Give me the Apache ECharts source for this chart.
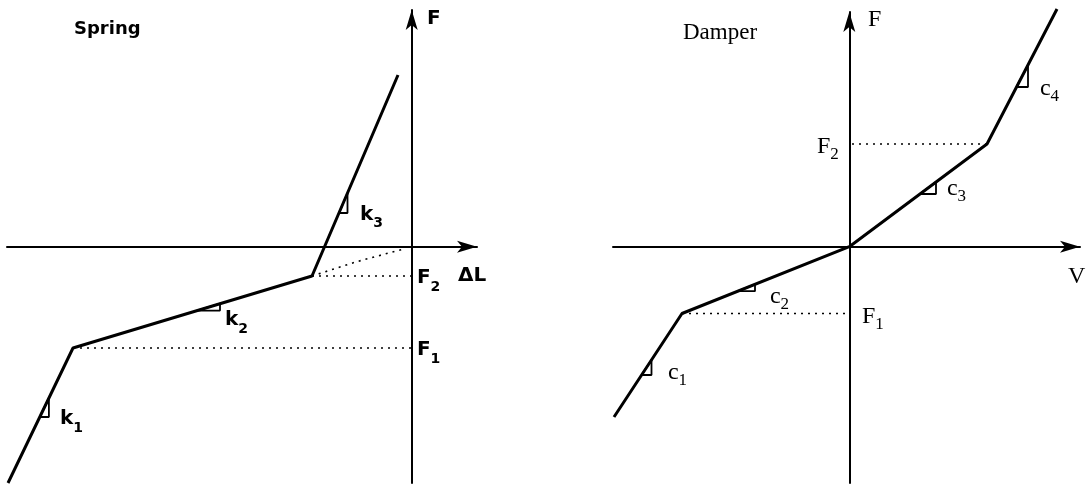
<!DOCTYPE html>
<html>
<head>
<meta charset="utf-8">
<script src="https://cdn.jsdelivr.net/npm/echarts@6/dist/echarts.min.js"></script>
<style>
  html, body { margin: 0; padding: 0; background: #fff; }
  #chart { width: 1089px; height: 488px; }
</style>
</head>
<body>
<div id="chart"></div>
<script>
// spring: deflection (ΔL) vs force, break points
var springCurve = [[-40.37, -23.63], [-33.87, -10.13], [-9.97, -2.93], [-1.37, 17.17]];
var springF1 = -10.13;
var springF2 = -2.93;
var springExtension = [[-9.97, -2.93], [-5.5, -1.5], [-0.7, -0.2]];
// slope triangles: [lowX, lowY, highX, highY] along the curve
var springSlopes = [[-37.19, -17.03, -36.28, -15.13], [-21.47, -6.39, -19.17, -5.70], [-7.27, 3.37, -6.42, 5.37]];
var springLabels = [
  ['F', '', 1.53, 22.8], ['ΔL', '', 4.63, -2.9], ['F', '2', 0.53, -3.13], ['F', '1', 0.53, -10.33],
  ['k', '3', -5.17, 3.22], ['k', '2', -18.67, -7.33], ['k', '1', -35.17, -17.23]
];

// damper: velocity (V) vs force
var damperCurve = [[-23.53, -17.03], [-16.73, -6.68], [0, 0], [13.77, 10.27], [20.77, 23.77]];
var damperF1 = -6.68;
var damperF2 = 10.27;
var damperSlopes = [[-20.77, -12.83, -19.78, -11.33], [-11.13, -4.45, -9.43, -3.77], [7.07, 5.27, 8.67, 6.47], [16.72, 15.97, 17.87, 18.17]];
var damperLabels = [
  ['F', '', 1.87, 22.67], ['V', '', 21.87, -3.03], ['F', '2', -3.23, 9.97], ['F', '1', 1.27, -7.03],
  ['c', '4', 19.07, 15.8], ['c', '3', 9.77, 5.8], ['c', '2', -7.93, -5.0], ['c', '1', -18.13, -12.6]
];

var INK = '#000';

function axis(grid, min, max) {
  return {
    type: 'value', gridIndex: grid, min: min, max: max,
    axisLine: { show: true, onZero: true, symbol: ['none', 'arrow'], symbolSize: [9, 20],
      lineStyle: { color: INK, width: 2 } },
    axisTick: { show: false }, axisLabel: { show: false }, splitLine: { show: false }
  };
}

function lineSeries(idx, data, width, dash) {
  return {
    type: 'line', xAxisIndex: idx, yAxisIndex: idx, data: data,
    symbol: 'none', clip: false, silent: true, animation: false,
    lineStyle: { color: INK, width: width, type: dash || 'solid' }
  };
}

function panelSeries(idx, curve, f1, f2, extra, slopes, labels, font, weight, size) {
  var list = [];
  list.push(lineSeries(idx, curve, 3));
  // dotted force levels back to the F axis
  list.push(lineSeries(idx, [[curve[1][0], f1], [0, f1]], 1.6, [2, 5]));
  var b2 = curve.length === 4 ? curve[2] : curve[3];
  list.push(lineSeries(idx, [[b2[0], f2], [0, f2]], 1.6, [2, 5]));
  if (extra) list.push(lineSeries(idx, extra, 1.6, [2, 5]));

  slopes.forEach(function(s) {
    list.push(lineSeries(idx, [[s[0], s[1]], [s[2], s[3]], [s[2], s[1]], [s[0], s[1]]], 1.8));
  });

  list.push({
    type: 'scatter', xAxisIndex: idx, yAxisIndex: idx, silent: true, animation: false,
    symbolSize: 0.1, itemStyle: { color: '#fff', opacity: 1 },
    data: labels.map(function(l) { return { value: [l[2], l[3]], main: l[0], sub: l[1] }; }),
    label: {
      show: true, position: [0, 0], align: 'left', verticalAlign: 'middle',
      color: INK, opacity: 1, textBorderWidth: 0,
      formatter: function(p) {
        return '{m|' + p.data.main + '}' + (p.data.sub ? '{s|' + p.data.sub + '}' : '');
      },
      rich: {
        m: { fontFamily: font, fontWeight: weight, fontSize: size, color: INK, opacity: 1, lineHeight: 32 },
        s: { fontFamily: font, fontWeight: weight, fontSize: Math.round(size * 0.7), color: INK,
          opacity: 1, lineHeight: 12, verticalAlign: 'bottom' }
      }
    }
  });
  return list;
}

var chart = echarts.init(document.getElementById('chart'), null, { renderer: 'canvas' });

chart.setOption({
  backgroundColor: '#fff',
  animation: false,
  title: [
    { text: 'Spring', left: 74, top: 20, padding: 0,
      textStyle: { fontFamily: 'DejaVu Sans', fontWeight: 'bold', fontSize: 18, color: INK } },
    { text: 'Damper', left: 683, top: 21, padding: 0,
      textStyle: { fontFamily: 'Liberation Serif', fontWeight: 'normal', fontSize: 23, color: INK } }
  ],
  grid: [
    { left: 7, top: 10, width: 470, height: 473 },
    { left: 613, top: 12, width: 467, height: 471 }
  ],
  xAxis: [axis(0, -40.47, 6.53), axis(1, -23.63, 23.07)],
  yAxis: [axis(0, -23.63, 23.67), axis(1, -23.63, 23.47)],
  series: []
    .concat(panelSeries(0, springCurve, springF1, springF2, springExtension, springSlopes, springLabels,
      'DejaVu Sans', 'bold', 20))
    .concat(panelSeries(1, damperCurve, damperF1, damperF2, null, damperSlopes, damperLabels,
      'Liberation Serif', 'normal', 24))
});
</script>
</body>
</html>
